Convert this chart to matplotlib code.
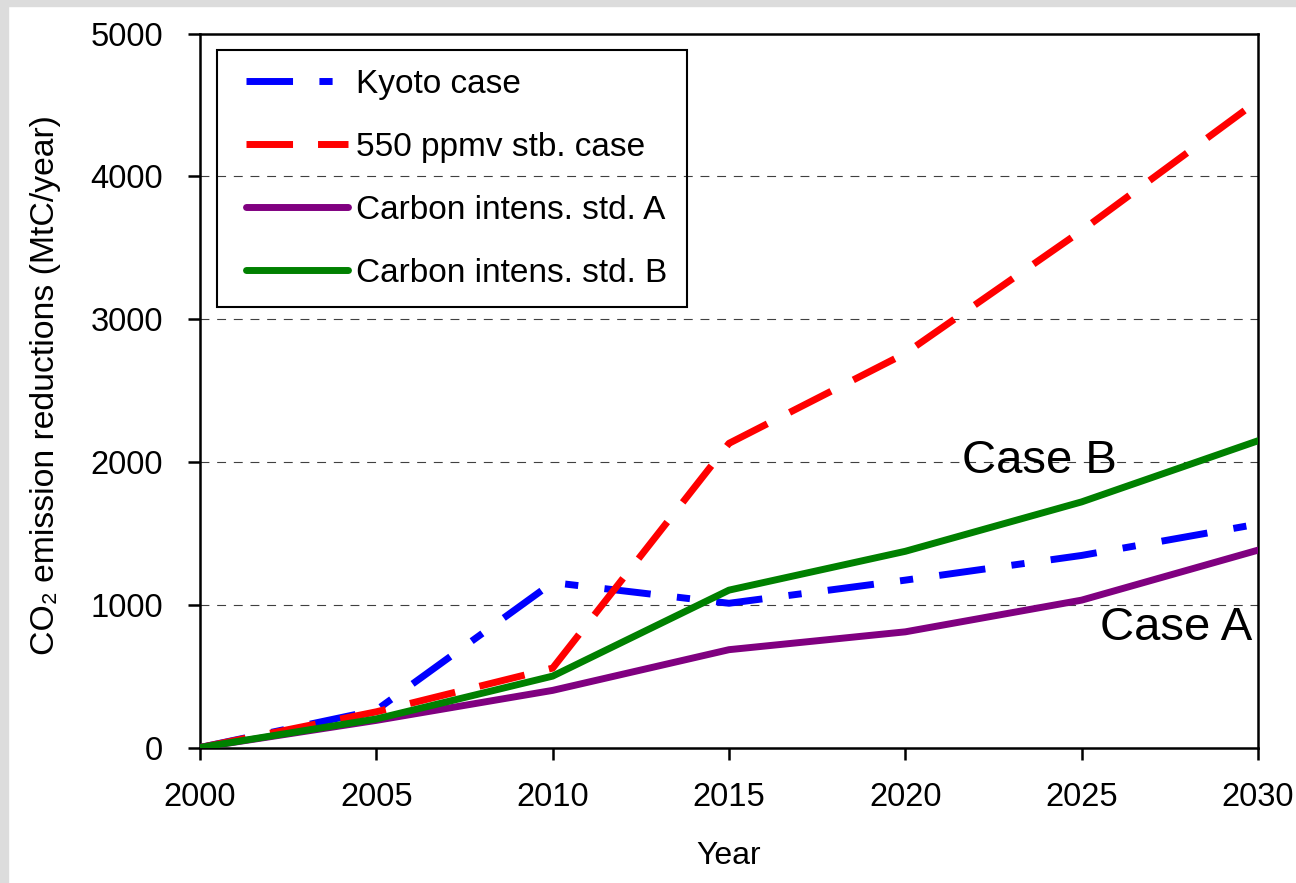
import matplotlib
matplotlib.use('Agg')
import matplotlib.pyplot as plt
from matplotlib.patches import Rectangle

plt.rcParams['font.family'] = ['Liberation Sans', 'DejaVu Sans']

# data
years = [2000, 2005, 2010, 2015, 2020, 2025, 2030]
kyoto = [0, 262, 1155, 1010, 1172, 1345, 1565]
ppmv550 = [0, 250, 556, 2130, 2760, 3620, 4530]
std_a = [0, 190, 400, 685, 810, 1032, 1382]
std_b = [0, 200, 500, 1102, 1374, 1720, 2148]

labels = ['Kyoto case', '550 ppmv stb. case',
          'Carbon intens. std. A', 'Carbon intens. std. B']
yticks = [0, 1000, 2000, 3000, 4000, 5000]
xticks = [2000, 2005, 2010, 2015, 2020, 2025, 2030]

fig = plt.figure(figsize=(12.96, 8.83), dpi=100)
fig.patch.set_facecolor('white')
# light grey slide border on the left and top
fig.patches.append(Rectangle((0, 0), 8 / 1296, 1, transform=fig.transFigure,
                             color='#dcdcdc', zorder=0))
fig.patches.append(Rectangle((0, 1 - 6 / 883), 1, 6 / 883, transform=fig.transFigure,
                             color='#dcdcdc', zorder=0))

ax = fig.add_axes([200 / 1296, 135.5 / 883, 1058 / 1296, 714 / 883])

lw = 5.0
ax.plot(years, kyoto, color='#0000ff', lw=lw, linestyle=(0, (6.7, 3.8, 1.9, 3.8)),
        label=labels[0], zorder=3)
ax.plot(years, ppmv550, color='#ff0000', lw=lw, linestyle=(0, (6.7, 3.6)),
        label=labels[1], zorder=4)
ax.plot(years, std_a, color='#800080', lw=lw, solid_capstyle='round',
        solid_joinstyle='round', label=labels[2], zorder=5)
ax.plot(years, std_b, color='#008000', lw=lw, solid_capstyle='round',
        solid_joinstyle='round', label=labels[3], zorder=6)

ax.set_xlim(2000, 2030)
ax.set_ylim(0, 5000)
ax.set_xticks(xticks)
ax.set_yticks(yticks)
ax.tick_params(direction='out', length=8.6, width=1.8, labelsize=23.5)
ax.tick_params(axis='x', pad=16)
ax.tick_params(axis='y', pad=18)

for sp in ax.spines.values():
    sp.set_linewidth(1.8)
    sp.set_color('black')

for v in yticks[1:-1]:
    ax.axhline(v, color='#404040', lw=0.8, linestyle=(0, (8, 7)), zorder=1)

ax.set_xlabel('Year', fontsize=23)
ax.set_ylabel('CO₂ emission reductions (MtC/year)', fontsize=24.3)
ax.xaxis.set_label_coords(0.5, -0.131)
ax.yaxis.set_label_coords(-0.1314, 0.508)

ax.text(2021.6, 1922, 'Case B', fontsize=34, ha='left', va='baseline', zorder=7)
ax.text(2025.52, 753, 'Case A', fontsize=34, ha='left', va='baseline', zorder=7)

leg = ax.legend(loc='upper left', bbox_to_anchor=(46 / 1058, (747.5 - 69) / 714),
                frameon=False, fontsize=24, handlelength=3.07, handletextpad=0.24,
                labelspacing=0.96, borderpad=0, borderaxespad=0)
# legend frame drawn separately so the padding matches the original
ax.add_patch(Rectangle((17 / 1058, (747.5 - 307) / 714), 470 / 1058, 257 / 714,
                       transform=ax.transAxes, fill=False, edgecolor='black',
                       lw=1.5, zorder=8))

fig.savefig('out.png', dpi=100)
